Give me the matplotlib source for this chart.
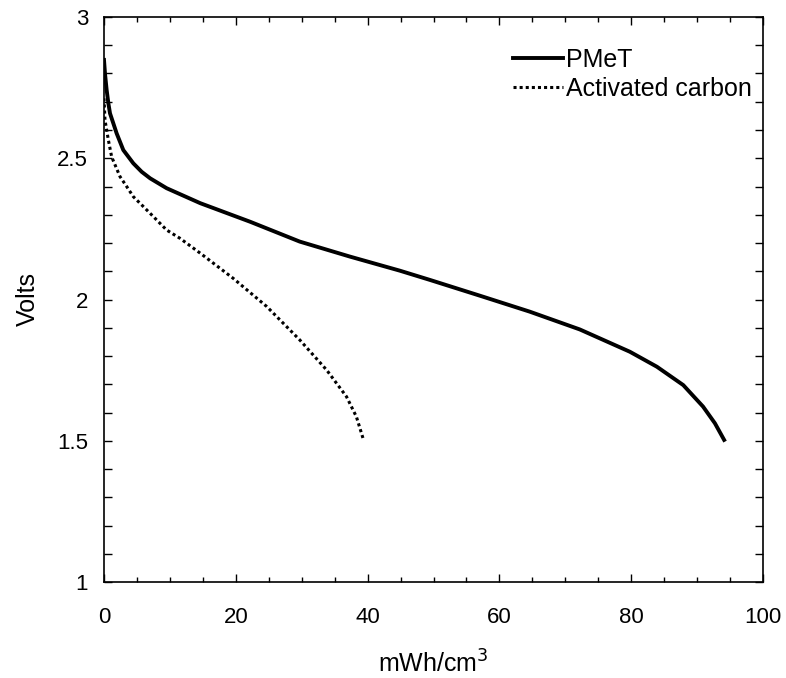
import matplotlib as mpl
mpl.use('Agg')
import matplotlib.pyplot as plt
from matplotlib.ticker import MultipleLocator

plt.rcParams['font.family'] = ['Liberation Sans', 'DejaVu Sans']

# discharge curves
pmet_x = [0, 0.15, 0.4, 0.66, 0.91, 1.41, 1.92, 2.93, 4.45, 5.72, 7.0, 9.5, 14.6,
          22.2, 29.7, 37.3, 44.9, 49.5, 57.1, 64.6, 72.2, 79.8, 83.9, 87.9,
          90.9, 92.7, 94.1]
pmet_v = [2.848, 2.80, 2.742, 2.695, 2.659, 2.624, 2.588, 2.529, 2.482, 2.452,
          2.429, 2.394, 2.341, 2.275, 2.205, 2.152, 2.102, 2.069, 2.013, 1.957,
          1.894, 1.815, 1.762, 1.697, 1.621, 1.562, 1.503]

carbon_x = [0, 0.15, 0.66, 1.16, 2.43, 3.44, 4.45, 5.97, 7.0, 9.5, 11.5, 14.6,
            19.6, 24.7, 29.7, 33.8, 36.8, 38.3, 39.3]
carbon_v = [2.712, 2.635, 2.565, 2.505, 2.435, 2.40, 2.364, 2.329, 2.305, 2.246,
            2.217, 2.164, 2.075, 1.975, 1.857, 1.750, 1.656, 1.585, 1.509]

labels = ['PMeT', 'Activated carbon']

fig = plt.figure(figsize=(7.86, 6.78), dpi=100)
ax = fig.add_axes([104/786, 1 - 582/678, (763-104)/786, (582-17)/678])

ax.plot(pmet_x, pmet_v, color='black', lw=2.8, label=labels[0])
ax.plot(carbon_x, carbon_v, color='black', lw=2.2, linestyle=(0, (1, 1)),
        label=labels[1])

ax.set_xlim(0, 100)
ax.set_ylim(1, 3)
ax.xaxis.set_major_locator(MultipleLocator(20))
ax.xaxis.set_minor_locator(MultipleLocator(5))
ax.yaxis.set_minor_locator(MultipleLocator(0.1))
ax.set_yticks([1, 1.5, 2, 2.5, 3])
ax.set_yticklabels(['1', '1.5', '2', '2.5', '3'])

ax.tick_params(which='both', direction='in', top=True, right=True,
               labelsize=16, width=1)
ax.tick_params(axis='x', which='major', length=6, pad=18)
ax.tick_params(axis='x', which='minor', length=3.6)
ax.tick_params(axis='y', which='both', length=6, pad=11.5)
for s in ax.spines.values():
    s.set_linewidth(1.2)

ax.set_xlabel('mWh/cm$^3$', fontsize=18, labelpad=16)
ax.set_ylabel('Volts', fontsize=18, labelpad=12)

ax.legend(loc='upper left', bbox_to_anchor=(0.621, 0.945), frameon=False,
          fontsize=18, handlelength=2.0, handletextpad=0.12, borderpad=0,
          borderaxespad=0, labelspacing=0.2)

fig.savefig('out.png', dpi=100)
